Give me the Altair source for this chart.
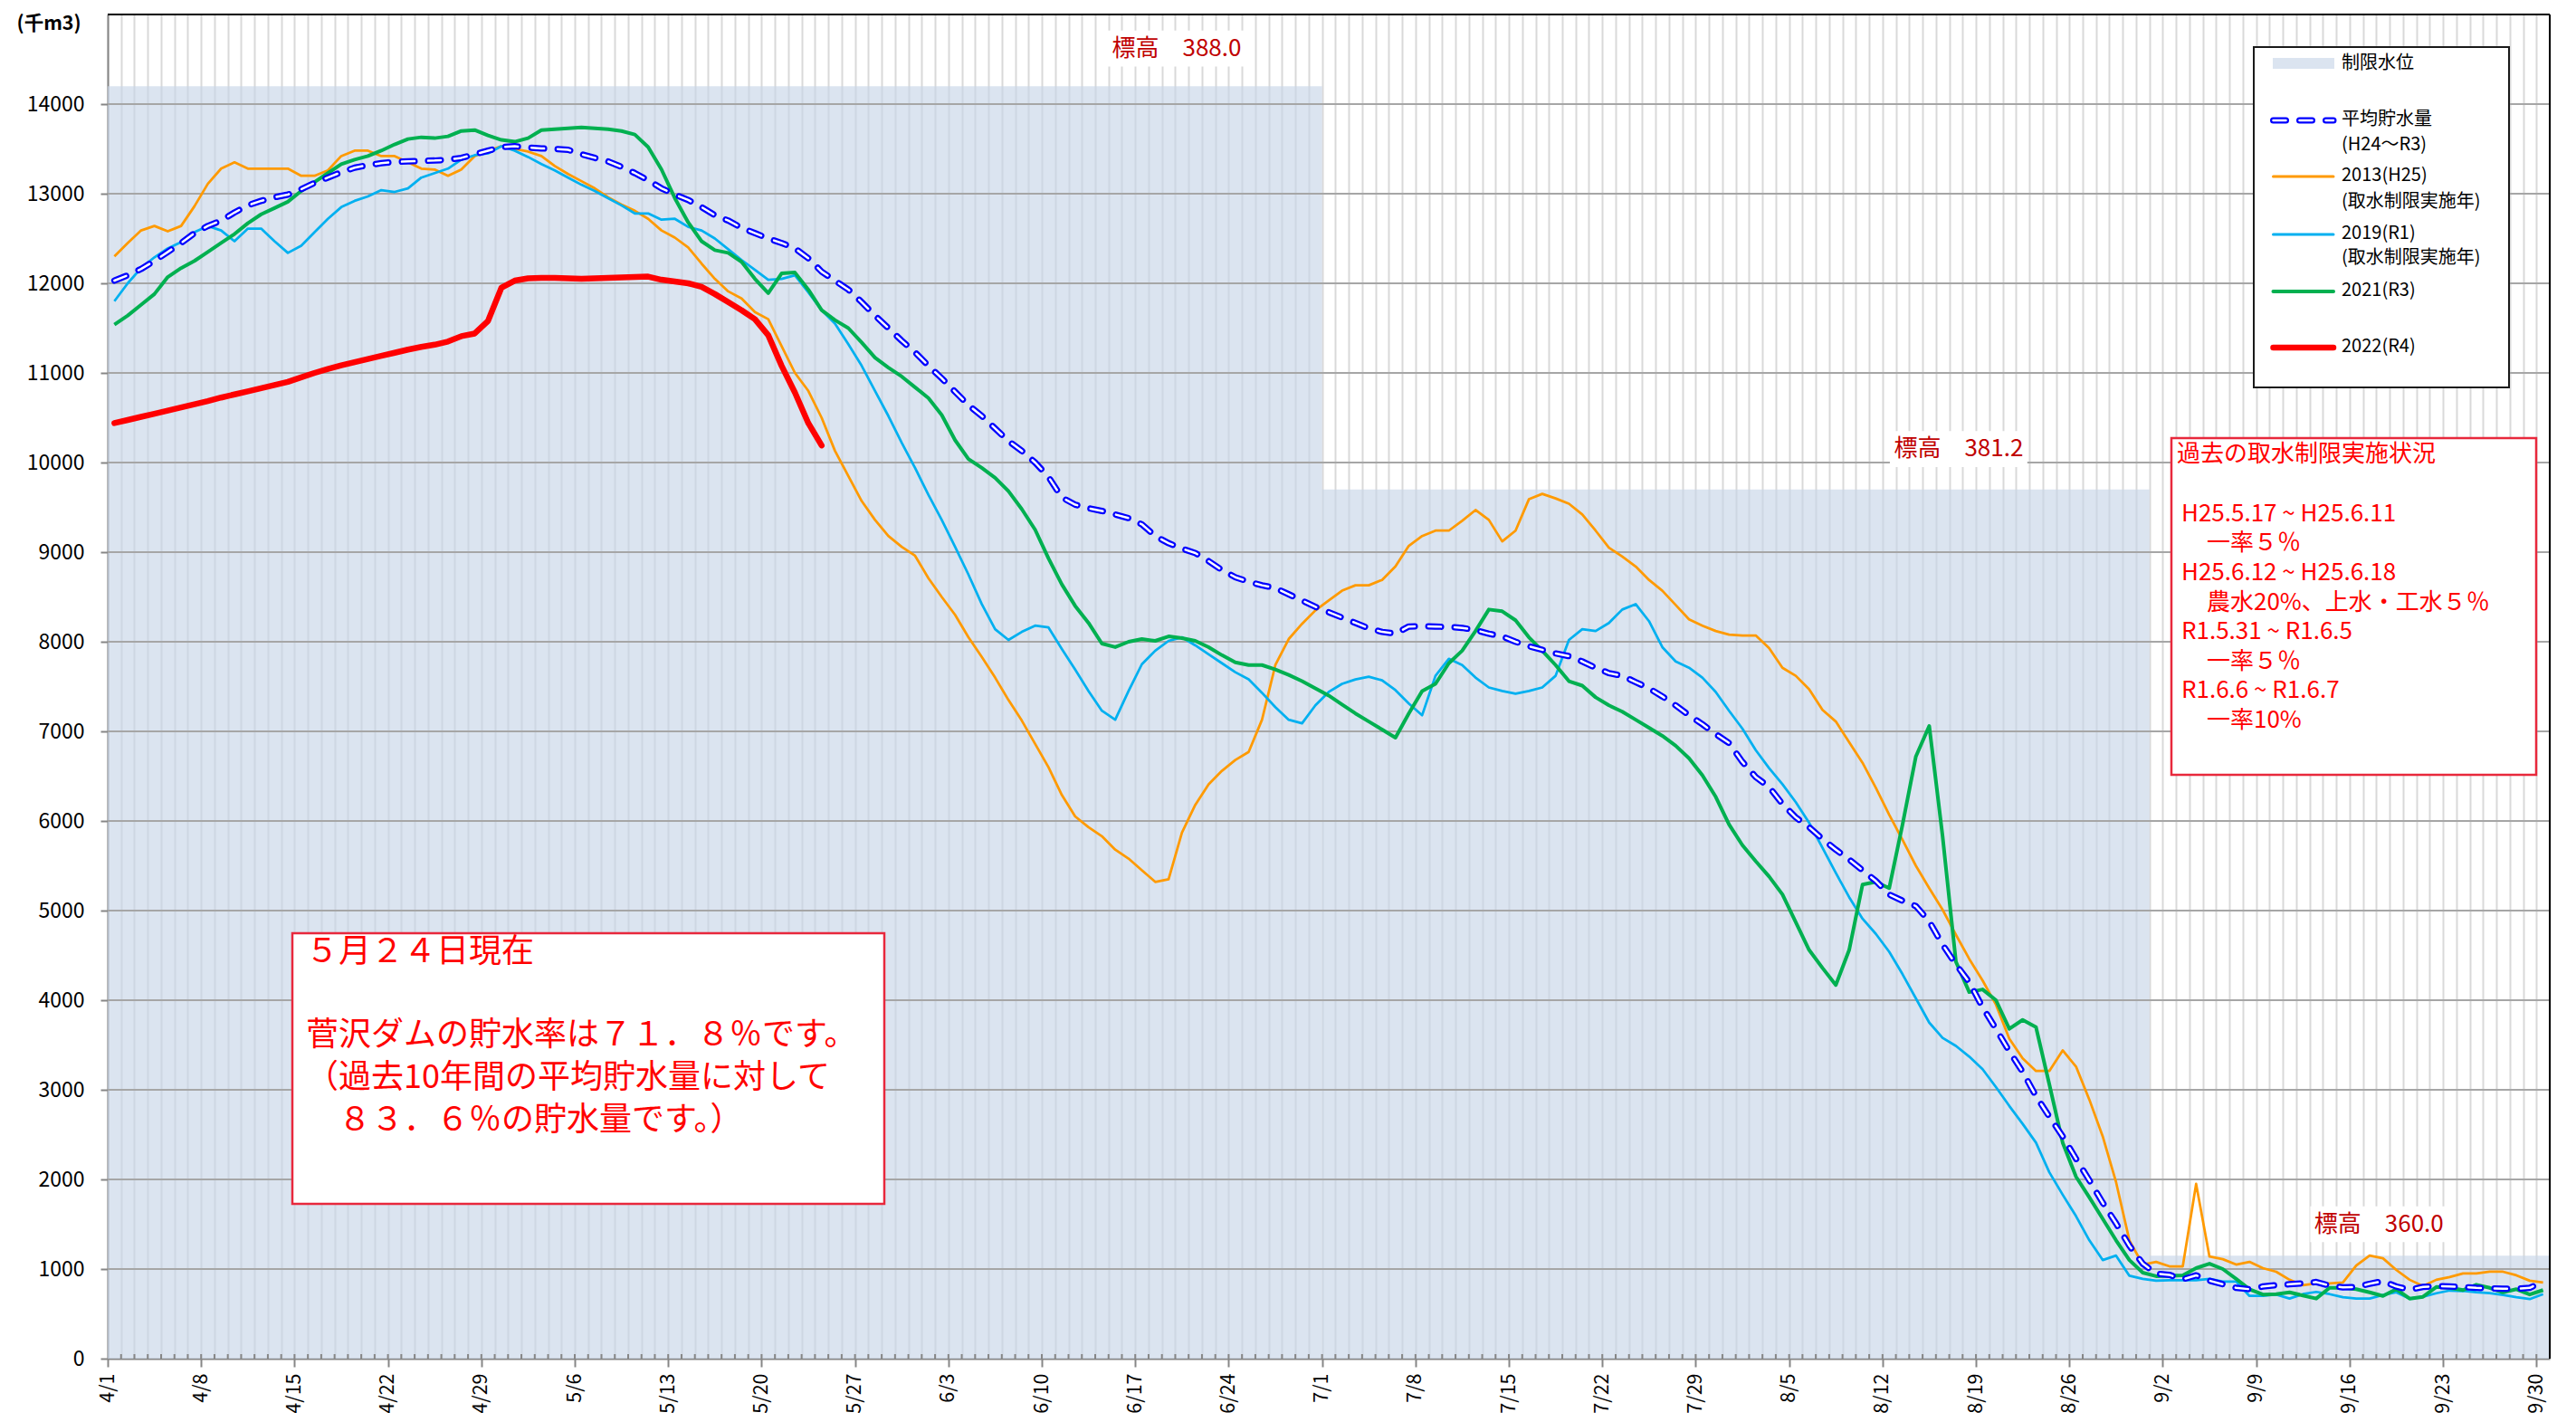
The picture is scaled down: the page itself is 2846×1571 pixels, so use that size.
import altair as alt
import pandas as pd

# ---------------- data ----------------
TICK_LABELS = ["4/1", "4/8", "4/15", "4/22", "4/29", "5/6", "5/13", "5/20", "5/27",
               "6/3", "6/10", "6/17", "6/24", "7/1", "7/8", "7/15", "7/22", "7/29",
               "8/5", "8/12", "8/19", "8/26", "9/2", "9/9", "9/16", "9/23", "9/30"]
Y_TICKS = [0, 1000, 2000, 3000, 4000, 5000, 6000, 7000, 8000, 9000, 10000,
           11000, 12000, 13000, 14000]

AVG = [12030, 12090, 12160, 12250, 12350, 12450, 12560, 12640, 12700, 12790,
       12870, 12920, 12960, 12990, 13050, 13120, 13180, 13240, 13290, 13320,
       13340, 13355, 13360, 13365, 13370, 13380, 13400, 13440, 13480, 13520,
       13530, 13515, 13505, 13500, 13490, 13440, 13400, 13360, 13300, 13230,
       13150, 13060, 12990, 12930, 12850, 12760, 12700, 12620, 12560, 12500,
       12450, 12390, 12280, 12130, 12030, 11930, 11790, 11640, 11500, 11360,
       11230, 11080, 10940, 10790, 10640, 10520, 10380, 10240, 10130, 10000,
       9840, 9610, 9530, 9490, 9460, 9420, 9380, 9310, 9180, 9100,
       9040, 8990, 8900, 8800, 8720, 8670, 8630, 8600, 8530, 8460,
       8390, 8330, 8270, 8210, 8150, 8110, 8090, 8170, 8175, 8170,
       8165, 8155, 8130, 8090, 8060, 8000, 7950, 7910, 7870, 7840,
       7780, 7710, 7650, 7620, 7550, 7480, 7390, 7290, 7180, 7080,
       6970, 6870, 6660, 6490, 6380, 6190, 6040, 5930, 5800, 5680,
       5570, 5450, 5330, 5180, 5110, 5050, 4880, 4620, 4400, 4200,
       3920, 3680, 3430, 3200, 2930, 2700, 2480, 2230, 1990, 1740,
       1510, 1260, 1060, 950, 935, 885, 930, 870, 830, 790,
       775, 805, 820, 830, 840, 855, 815, 795, 800, 835,
       865, 805, 770, 800, 810, 805, 800, 790, 785, 780,
       780, 790, 860]

Y2013 = [12300, 12450, 12590, 12640, 12580, 12640, 12860, 13110, 13280, 13350,
         13280, 13280, 13280, 13280, 13200, 13200, 13260, 13420, 13480, 13480,
         13420, 13420, 13350, 13280, 13270, 13200, 13270, 13420, 13480, 13530,
         13500, 13470, 13420, 13310, 13220, 13140, 13060, 12960, 12880, 12810,
         12720, 12590, 12510, 12400, 12220, 12050, 11910, 11830, 11680, 11600,
         11300, 11000, 10800, 10500, 10130, 9850, 9570, 9360, 9180, 9060,
         8960, 8710, 8500, 8300, 8050, 7830, 7600, 7350, 7120, 6860,
         6600, 6290, 6050, 5930, 5830, 5680, 5580, 5450, 5320, 5350,
         5870, 6180, 6410, 6560, 6680, 6770, 7130, 7740, 8030, 8200,
         8350, 8460, 8570, 8630, 8630, 8690, 8840, 9070, 9180, 9240,
         9240, 9350, 9470, 9360, 9120, 9240, 9590, 9650, 9600, 9540,
         9420, 9240, 9050, 8950, 8840, 8690, 8570, 8410, 8250, 8180,
         8120, 8080, 8070, 8070, 7930, 7710, 7620, 7470, 7240, 7110,
         6880, 6650, 6370, 6070, 5790, 5500, 5250, 5010, 4730, 4460,
         4220, 3950, 3570, 3350, 3210, 3210, 3440, 3260, 2890, 2480,
         1970, 1320, 1050, 1080, 1030, 1030, 1950, 1140, 1110, 1050,
         1080, 1010, 970, 880, 820, 840, 840, 850, 1040, 1150,
         1120, 990, 880, 810, 880, 910, 950, 950, 970, 970,
         930, 870, 850]

Y2019 = [11800, 12000, 12170, 12290, 12390, 12460, 12570, 12640, 12590, 12470,
         12610, 12610, 12470, 12340, 12420, 12570, 12720, 12850, 12920, 12970,
         13040, 13020, 13060, 13180, 13230, 13280, 13380, 13430, 13450, 13530,
         13480, 13410, 13330, 13260, 13180, 13100, 13030, 12950, 12870, 12780,
         12780, 12710, 12720, 12630, 12590, 12500, 12380, 12260, 12150, 12040,
         12050, 12090, 11900, 11700, 11550, 11320, 11080, 10800, 10520, 10220,
         9940, 9640, 9360, 9060, 8750, 8420, 8140, 8020, 8110, 8180,
         8160, 7920, 7690, 7450, 7230, 7130, 7450, 7750, 7900, 8010,
         8050, 7960, 7860, 7760, 7660, 7580, 7430, 7270, 7130, 7090,
         7290, 7440, 7530, 7580, 7610, 7570, 7460, 7310, 7180, 7620,
         7810, 7740, 7600, 7490, 7450, 7420, 7450, 7490, 7620, 8020,
         8140, 8120, 8210, 8360, 8420, 8230, 7940, 7780, 7710, 7600,
         7440, 7230, 7030, 6790, 6590, 6410, 6210, 5980, 5700, 5420,
         5150, 4910, 4740, 4540, 4290, 4020, 3750, 3580, 3490, 3370,
         3230, 3030, 2820, 2620, 2410, 2080, 1830, 1590, 1320, 1100,
         1150, 925, 890, 870, 875, 875, 875, 890, 860, 860,
         700, 700, 715, 670, 720, 745, 720, 685, 670, 670,
         710, 740, 670, 690, 730, 760, 755, 740, 730, 710,
         685, 665, 720]

Y2021 = [11540, 11640, 11760, 11880, 12070, 12170, 12250, 12350, 12450, 12550,
         12670, 12770, 12840, 12910, 13030, 13130, 13230, 13330, 13380, 13420,
         13480, 13550, 13610, 13630, 13620, 13640, 13700, 13710, 13650, 13600,
         13580, 13620, 13710, 13720, 13730, 13740, 13730, 13720, 13700, 13660,
         13520, 13270, 12950, 12680, 12470, 12370, 12340, 12240, 12050, 11890,
         12110, 12120, 11930, 11700, 11590, 11500, 11340, 11170, 11060, 10960,
         10840, 10720, 10530, 10250, 10040, 9940, 9830, 9680, 9480, 9250,
         8930, 8640, 8400, 8210, 7980, 7940, 8000, 8030, 8010, 8060,
         8040, 8010, 7940, 7850, 7770, 7740, 7740, 7690, 7630, 7560,
         7480, 7400, 7300, 7200, 7110, 7020, 6930, 7200, 7450, 7530,
         7760, 7900, 8120, 8360, 8340, 8240, 8050, 7900, 7740, 7560,
         7510, 7380, 7290, 7220, 7130, 7040, 6950, 6840, 6700, 6510,
         6270, 5960, 5730, 5550, 5380, 5180, 4870, 4560, 4360, 4170,
         4560, 5290, 5320, 5250, 5960, 6720, 7060, 5830, 4430, 4090,
         4120, 4000, 3680, 3780, 3700, 3060, 2410, 2030, 1800, 1560,
         1320, 1100, 960, 920, 925, 930, 1010, 1060, 1000, 890,
         775, 715, 720, 740, 705, 670, 790, 790, 775, 740,
         700, 775, 670, 690, 800, 790, 765, 825, 790, 740,
         775, 715, 765]

Y2022 = [10440, 10475, 10510, 10545, 10580, 10615, 10650, 10685, 10725, 10760,
         10795, 10830, 10865, 10900, 10950, 11000, 11045, 11085, 11120, 11155,
         11190, 11225, 11260, 11290, 11315, 11350, 11410, 11440, 11580, 11950,
         12030, 12055, 12060, 12060, 12055, 12050, 12055, 12060, 12065, 12070,
         12075, 12040, 12020, 12000, 11960, 11880, 11790, 11700, 11600, 11420,
         11080, 10780, 10440, 10190]

LIMIT_START = [0, 91, 153]
LIMIT_END = [91, 153, 183]
LIMIT_LEVEL = [14200, 9700, 1150]
LIMIT_TEXT = ["標高　388.0", "標高　381.2", "標高　360.0"]

# ---------------- layout / style ----------------
FONT = "Noto Sans CJK JP"
W, H = 2698, 1485
X0, Y0 = 119, 16          # page position of plot-area origin
N_SLOTS = 183
LBL_DAY = [80.1, 138.7, 170.2]
LBL_VAL = [14620, 10150, 1500]
SHADE = "#C8D6E8"


def px(x):
    return x - X0


def py(y):
    return y - Y0


XS = alt.Scale(domain=[0, N_SLOTS], nice=False, zero=False)
YS = alt.Scale(domain=[0, 15000], nice=False, zero=True)
ONE = pd.DataFrame({"k": [0]})


def series_df(vals):
    return pd.DataFrame({"pos": [i + 0.5 for i in range(len(vals))], "value": vals})


label_arr = "[" + ",".join("'" + t + "'" for t in TICK_LABELS) + "]"
x_axis = alt.Axis(
    values=list(range(0, N_SLOTS + 1)), tickCount=500,
    labelExpr="(datum.value % 7 === 0 && datum.value <= 182) ? " + label_arr + "[datum.value / 7] : ''",
    labelAngle=270, labelFontSize=21.5, labelFont=FONT, labelColor="#000000",
    labelPadding=7, labelOverlap=False, labelFlush=False, labelBound=False,
    grid=True, gridColor="#D9D9D9", gridWidth=2,
    tickOpacity={"condition": {"test": "datum.value % 7 === 0 && datum.value <= 182", "value": 1}, "value": 0},
    tickColor="#868686", tickSize=9, tickWidth=2,
    domainColor="#868686", domainWidth=2, title=None,
)
y_axis = alt.Axis(
    values=Y_TICKS, tickCount=100, format="d", labelFontSize=23, labelFont=FONT, labelColor="#000000",
    labelPadding=18, labelFlush=False, tickSize=8, tickColor="#868686", tickWidth=2,
    domainColor="#868686", domainWidth=2, grid=False,
    title="(千m3)", titleAngle=0, titleX=-101, titleY=10, titleAlign="left",
    titleBaseline="middle", titleFontSize=21.5, titleFontWeight="bold", titleFont=FONT,
    titleColor="#000000",
)

# shaded limit water level (carries both axes)
shade_df = pd.DataFrame({"start": LIMIT_START, "end": LIMIT_END, "level": LIMIT_LEVEL})
shade = alt.Chart(shade_df).mark_rect(color=SHADE, opacity=0.65).encode(
    x=alt.X("start:Q", scale=XS, axis=x_axis),
    x2="end:Q",
    y=alt.Y("level:Q", scale=YS, axis=y_axis),
    y2=alt.datum(0),
)

hgrid = alt.Chart(pd.DataFrame({"v": Y_TICKS[1:]})).mark_rule(
    color="#A6A6A6", strokeWidth=2).encode(y=alt.Y("v:Q", scale=YS))

# small inner ticks at every day boundary
minor_ticks = alt.Chart(pd.DataFrame({"d": list(range(1, N_SLOTS))})).mark_rule(
    color="#868686", strokeWidth=2).encode(
    x=alt.X("d:Q", scale=XS), y=alt.value(H - 5), y2=alt.value(H))


def line(vals, color, width, **kw):
    return alt.Chart(series_df(vals)).mark_line(
        color=color, strokeWidth=width, strokeJoin="round", **kw).encode(
        x=alt.X("pos:Q", scale=XS),
        y=alt.Y("value:Q", scale=YS),
    )


DASH = [14, 15]
l2013 = line(Y2013, "#FF9A00", 2.75)
l2019 = line(Y2019, "#00B0F0", 2.75)
l2021 = line(Y2021, "#00B050", 4)
lavg_o = line(AVG, "#0000FF", 7, strokeDash=DASH, strokeCap="round")
lavg_i = line(AVG, "#FFFFFF", 2.5, strokeDash=DASH, strokeCap="round")
l2022 = line(Y2022, "#FF0000", 6.5, strokeCap="round")

# elevation labels
lbl_df = pd.DataFrame({"t": LIMIT_TEXT, "lx": LBL_DAY, "ly": LBL_VAL})
lbl_df["x1"] = lbl_df["lx"] - 5.15
lbl_df["x2"] = lbl_df["lx"] + 5.15
lbl_df["y1"] = lbl_df["ly"] - 200
lbl_df["y2"] = lbl_df["ly"] + 200
lbl_bg = alt.Chart(lbl_df).mark_rect(fill="#FFFFFF").encode(
    x=alt.X("x1:Q", scale=XS), x2="x2:Q",
    y=alt.Y("y1:Q", scale=YS), y2="y2:Q")
lbl_tx = alt.Chart(lbl_df).mark_text(
    font=FONT, fontSize=26, color="#C00000", align="center", baseline="middle").encode(
    x=alt.X("lx:Q", scale=XS), y=alt.Y("ly:Q", scale=YS), text="t:N")


def box(x1, y1, x2, y2, stroke, sw, fill="#FFFFFF"):
    return alt.Chart(ONE).mark_rect(fill=fill, stroke=stroke, strokeWidth=sw).encode(
        x=alt.value(px(x1)), x2=alt.value(px(x2)), y=alt.value(py(y1)), y2=alt.value(py(y2)))


def text(t, x, y, size, color, weight="normal", align="left"):
    return alt.Chart(ONE).mark_text(
        text=t, font=FONT, fontSize=size, color=color, fontWeight=weight,
        align=align, baseline="middle").encode(x=alt.value(px(x)), y=alt.value(py(y)))


def swatch(y, color, width, **kw):
    return alt.Chart(ONE).mark_rule(color=color, strokeWidth=width, **kw).encode(
        x=alt.value(px(2511.5)), x2=alt.value(px(2578)), y=alt.value(py(y)))


# frame (top + right)
frame_top = alt.Chart(ONE).mark_rule(color="#000000", strokeWidth=2).encode(
    x=alt.value(0), x2=alt.value(W), y=alt.value(0))
frame_right = alt.Chart(ONE).mark_rule(color="#000000", strokeWidth=2).encode(
    x=alt.value(W), y=alt.value(0), y2=alt.value(H))

# legend
LG = 20
legend_layers = [
    box(2490, 52, 2772, 428, "#1A1A1A", 2),
    alt.Chart(ONE).mark_rect(color=SHADE, opacity=0.65).encode(
        x=alt.value(px(2511)), x2=alt.value(px(2579)), y=alt.value(py(64)), y2=alt.value(py(76))),
    text("制限水位", 2587, 70, LG, "#000000"),
    swatch(133, "#0000FF", 7, strokeDash=DASH, strokeCap="round"),
    swatch(133, "#FFFFFF", 2.5, strokeDash=DASH, strokeCap="round"),
    text("平均貯水量", 2587, 132, LG, "#000000"),
    text("(H24～R3)", 2587, 160, LG, "#000000"),
    swatch(195, "#FF9A00", 3, strokeCap="round"),
    text("2013(H25)", 2587, 194, LG, "#000000"),
    text("(取水制限実施年)", 2587, 223, LG, "#000000"),
    swatch(259, "#00B0F0", 3, strokeCap="round"),
    text("2019(R1)", 2587, 258, LG, "#000000"),
    text("(取水制限実施年)", 2587, 285, LG, "#000000"),
    swatch(322, "#00B050", 4, strokeCap="round"),
    text("2021(R3)", 2587, 321, LG, "#000000"),
    swatch(384, "#FF0000", 6.5, strokeCap="round"),
    text("2022(R4)", 2587, 383, LG, "#000000"),
]

# restriction history box
RB = 26
RED = "#FF0000"
right_layers = [
    box(2399, 484, 2802, 856, "#E8283C", 2.5),
    text("過去の取水制限実施状況", 2405, 502, RB, RED),
    text("H25.5.17 ~ H25.6.11", 2410, 568, RB, RED),
    text("一率５％", 2438, 600, RB, RED),
    text("H25.6.12 ~ H25.6.18", 2410, 633, RB, RED),
    text("農水20%、上水・工水５％", 2438, 666, RB, RED),
    text("R1.5.31 ~ R1.6.5", 2410, 698, RB, RED),
    text("一率５％", 2438, 731, RB, RED),
    text("R1.6.6 ~ R1.6.7", 2410, 763, RB, RED),
    text("一率10%", 2438, 796, RB, RED),
]

# current status box
LB = 36
left_layers = [
    box(323, 1031, 977, 1330, "#E8283C", 2.5),
    text("５月２４日現在", 338, 1052, LB, RED),
    text("菅沢ダムの貯水率は７１．８％です。", 338, 1144, LB, RED),
    text("（過去10年間の平均貯水量に対して", 338, 1191, LB, RED),
    text("８３．６％の貯水量です。）", 374, 1238, LB, RED),
]

chart = alt.layer(
    shade, hgrid, minor_ticks, l2013, l2019, l2021, lavg_o, lavg_i, l2022,
    lbl_bg, lbl_tx, frame_top, frame_right,
    *legend_layers, *right_layers, *left_layers,
).properties(
    width=W, height=H,
    background="#FFFFFF",
    autosize=alt.AutoSizeParams(type="none"),
    padding={"left": 111, "top": 8, "right": 12, "bottom": 60},
).configure_view(stroke=None)

chart.save("out.html", embed_options={"renderer": "svg", "actions": False})
